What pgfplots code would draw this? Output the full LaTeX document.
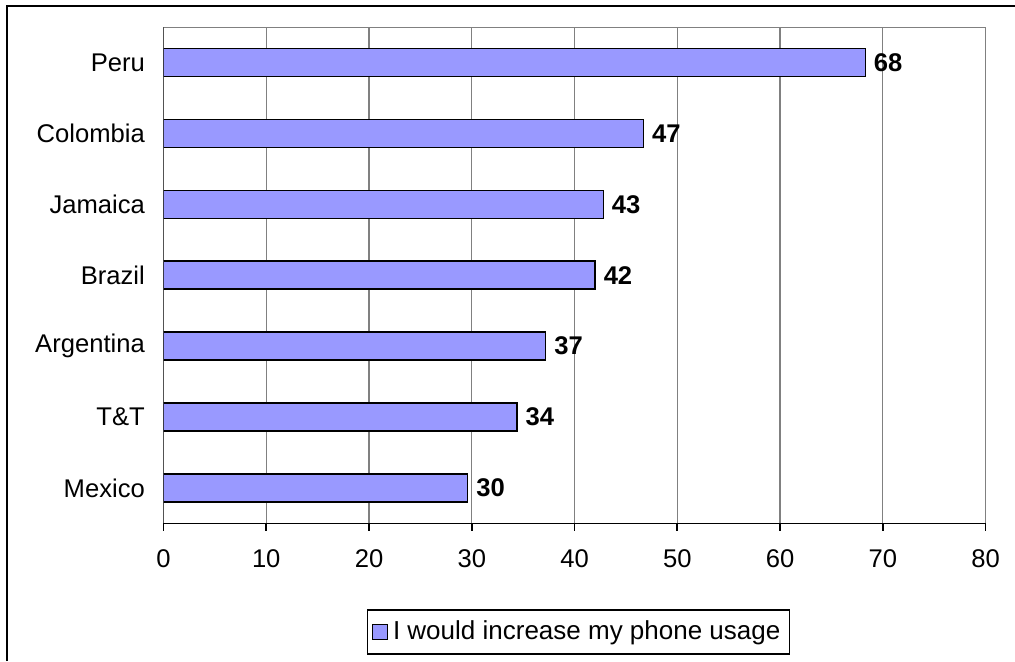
\documentclass[border=0pt]{standalone}
\usepackage{fontspec}
\setmainfont{Liberation Sans}
\usepackage{pgfplots}
\pgfplotsset{compat=1.18}
\definecolor{barblue}{HTML}{9999FF}
\definecolor{gridgray}{HTML}{808080}
\begin{document}
\begin{tikzpicture}
\useasboundingbox (0,0) rectangle (507.5pt,-330.5pt);
\draw[black, line width=0.9pt] (3.65pt,-330.5pt) -- (3.65pt,-2.85pt) -- (507.5pt,-2.85pt);
\begin{axis}[
  at={(81.75pt,-261.65pt)}, anchor=south west,
  scale only axis, width=411pt, height=248.15pt,
  xbar, bar width=14pt,
  xmin=0, xmax=80, ymin=-0.5, ymax=6.5,
  xtick={0,10,...,80},
  ytick={0,1,2,3,4,5,6},
  yticklabels={Mexico,T\&T,Argentina,Brazil,Jamaica,Colombia,Peru},
  minor ytick={-0.5,0.5,...,6.5},
  tick pos=left, tick align=outside,
  major tick length=3.8pt, minor tick length=3.8pt,
  ytick style={draw=none},
  minor tick style={draw=black, line width=0.8pt},
  xtick style={draw=black, line width=0.8pt},
  xmajorgrids, major grid style={draw=gridgray, line width=0.6pt},
  axis line style={draw=none},
  /pgf/number format/assume math mode=true,
  tick label style={font=\fontsize{12.8pt}{15pt}\selectfont},
  yticklabel style={xshift=-2pt},
  xticklabel style={yshift=-6pt},
  nodes near coords,
  point meta=x,
  nodes near coords style={font=\fontsize{12.8pt}{15pt}\selectfont\bfseries, anchor=west, inner sep=0pt, xshift=4pt,
    /pgf/number format/.cd, fixed, precision=0, assume math mode=true},
  legend style={at={(0.505,-0.219)}, anchor=center, draw=black, line width=0.6pt,
    inner xsep=2pt, inner ysep=0pt,
    nodes={inner xsep=2.5pt, inner ysep=5.5pt},
    font=\fontsize{13pt}{15pt}\selectfont},
  legend image code/.code={\draw[fill=barblue, draw=black, line width=0.6pt] (0pt,-3.75pt) rectangle (7.5pt,3.75pt);},
]
\addplot[fill=barblue, draw=black, line width=0.7pt] coordinates {
  (29.6,0) (34.4,1) (37.2,2) (42.0,3) (42.8,4) (46.7,5) (68.3,6)
};
\addlegendentry{I would increase my phone usage\hspace{9pt}}
\draw[gridgray, line width=0.8pt] (rel axis cs:0,1) -- (rel axis cs:1,1) -- (rel axis cs:1,0);
\draw[black, line width=0.8pt] (rel axis cs:0,1) -- (rel axis cs:0,0) -- (rel axis cs:1,0);
\end{axis}
\end{tikzpicture}
\end{document}
